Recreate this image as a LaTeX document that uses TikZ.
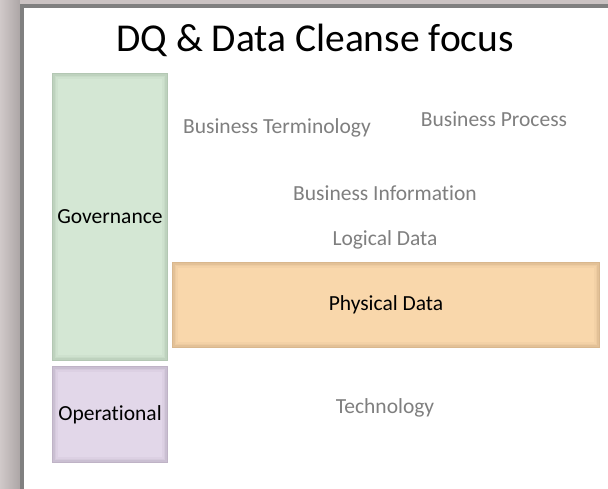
\documentclass[tikz,border=0pt]{standalone}
\usepackage{fontspec}
\setmainfont{Carlito}[Ligatures=NoCommon]
\usetikzlibrary{positioning}

\definecolor{govfill}{HTML}{D4E7D4}
\definecolor{govedge}{HTML}{9DB39D}
\definecolor{opsfill}{HTML}{E2D7E9}
\definecolor{opsedge}{HTML}{A89CB0}
\definecolor{physfill}{HTML}{F9D7AB}
\definecolor{physedge}{HTML}{C4A27A}
\definecolor{labelgrey}{HTML}{7F7F7F}
\definecolor{slidegrey}{HTML}{CBC3C3}

\begin{document}
\begin{tikzpicture}[x=1pt,y=-1pt]
	\tikzstyle{layer}=[rectangle,inner sep=0pt,font=\fontsize{21.5}{24}\selectfont]
	\tikzstyle{tier}=[font=\fontsize{21.5}{24}\selectfont,text=labelgrey,inner sep=0pt]
	
	% Slide background and frame
	\useasboundingbox (0,0) rectangle (608,489);
	\shade[left color=slidegrey!90!white,right color=slidegrey!85!black] (0,0) rectangle (20,489);
	\fill[slidegrey] (20,0) rectangle (608,4);
	\fill[black!50] (20,4) rectangle (608,489);
	\fill[white] (24,8) rectangle (608,489);
	
	% Title
	\node[font=\fontsize{39.5}{44}\selectfont] (title) at (315,40) {DQ \& Data Cleanse focus};
	
	% Draw the coloured boxes
	\node[layer,fill=govfill,minimum width=116,minimum height=288] (gov) at (110,217) {Governance};
	\node[layer,fill=opsfill,minimum width=116,minimum height=97] (ops) at (110,414.5) {Operational};
	\node[layer,fill=physfill,minimum width=428,minimum height=86] (phys) at (386,305) {Physical Data};
	
	% Soft inner edge of every box
	\foreach \blk/\edge in {gov/govedge,ops/opsedge,phys/physedge}
	\foreach \d/\o in {0.75/0.6,2/0.4,3.5/0.22,5/0.1}
	\draw[\edge,line width=1.5pt,opacity=\o] ([shift={(\d,\d)}]\blk.north west) rectangle ([shift={(-\d,-\d)}]\blk.south east);
	
	% Grey tier labels
	\node[tier] (term) at (277,128) {Business Terminology};
	\node[tier] (proc) at (494,119) {Business Process};
	\node[tier] (info) at (385,193) {Business Information};
	\node[tier] (logic) at (385,240) {Logical Data};
	\node[tier] (tech) at (385,408) {Technology};
\end{tikzpicture}
\end{document}
